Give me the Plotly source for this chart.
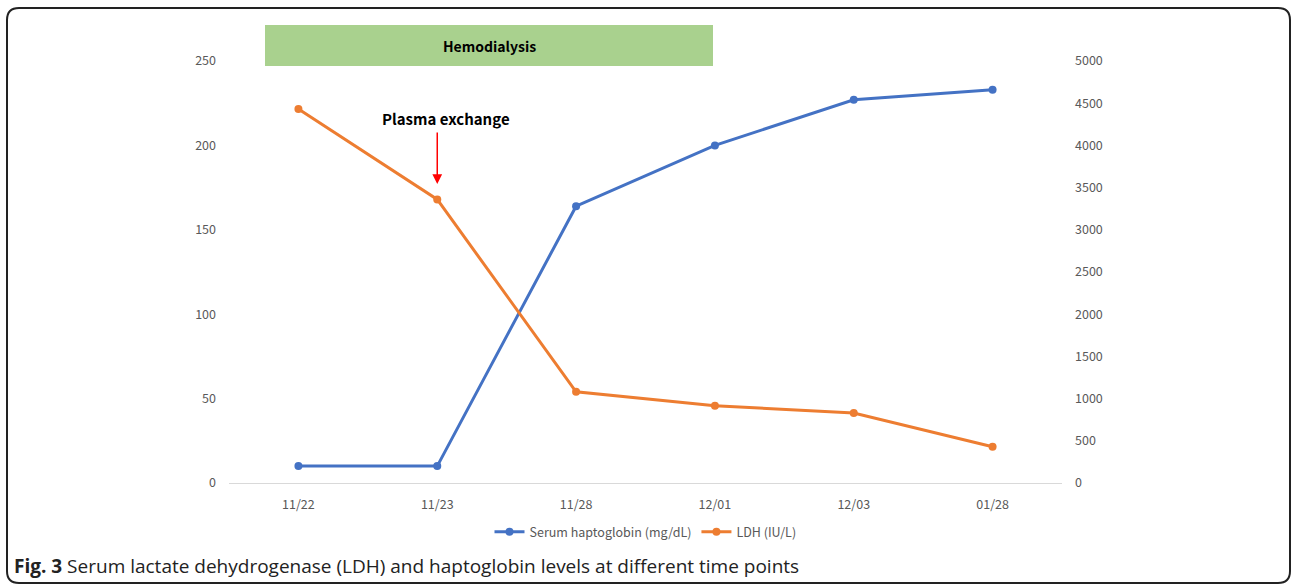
import plotly.graph_objects as go

dates = ["11/22", "11/23", "11/28", "12/01", "12/03", "01/28"]
haptoglobin = [10, 10, 164, 200, 227, 233]
ldh = [4430, 3360, 1080, 915, 830, 430]
left_ticks = [0, 50, 100, 150, 200, 250]
right_ticks = [0, 500, 1000, 1500, 2000, 2500, 3000, 3500, 4000, 4500, 5000]

W, H = 1292, 586
L, R, T, B = 229, 1062, 61, 483

def px(x):
    return (x - L) / (R - L)

def py(y):
    return (B - y) / (B - T)

fig = go.Figure()
fig.add_trace(go.Scatter(x=dates, y=haptoglobin, name="Serum haptoglobin (mg/dL)",
                         mode="lines+markers", line=dict(color="#4472C4", width=3),
                         marker=dict(size=8, color="#4472C4"), yaxis="y"))
fig.add_trace(go.Scatter(x=dates, y=ldh, name="LDH (IU/L)",
                         mode="lines+markers", line=dict(color="#ED7D31", width=3),
                         marker=dict(size=8, color="#ED7D31"), yaxis="y2"))

FONT = "Noto Sans CJK KR, Noto Sans, sans-serif"
tickfont = dict(family=FONT, size=12.5, color="#595959")

# rounded border path in paper coords
x0, x1, y0, y1 = px(7), px(1290), py(583), py(8)
rx, ry = 12 / (R - L), 12 / (B - T)
path = (f"M {x0+rx},{y1} L {x1-rx},{y1} Q {x1},{y1} {x1},{y1-ry} "
        f"L {x1},{y0+ry} Q {x1},{y0} {x1-rx},{y0} L {x0+rx},{y0} "
        f"Q {x0},{y0} {x0},{y0+ry} L {x0},{y1-ry} Q {x0},{y1} {x0+rx},{y1} Z")

fig.update_layout(
    width=W, height=H,
    margin=dict(l=L, r=W - R, t=T, b=H - B),
    plot_bgcolor="white", paper_bgcolor="white",
    showlegend=True,
    legend=dict(orientation="h", x=0.5, xanchor="center", y=py(532), yanchor="middle",
                font=tickfont, itemwidth=30),
    xaxis=dict(type="category", range=[-0.5, 5.5], showgrid=False, showline=True,
               linecolor="#D9D9D9", linewidth=1, ticks="", tickfont=tickfont,
               ticklabelstandoff=10, zeroline=False),
    yaxis=dict(range=[0, 250], tickvals=left_ticks, showgrid=False, zeroline=False,
               showline=False, ticks="", tickfont=tickfont, ticklabelstandoff=12),
    yaxis2=dict(range=[0, 5000], tickvals=right_ticks, overlaying="y", side="right",
                showgrid=False, zeroline=False, showline=False, ticks="",
                tickfont=tickfont, ticklabelstandoff=12),
    shapes=[
        dict(type="rect", xref="paper", yref="paper", x0=px(265), x1=px(713),
             y0=py(66), y1=py(25), fillcolor="#A9D18E", line=dict(width=0), layer="below"),
        dict(type="path", xref="paper", yref="paper", path=path,
             line=dict(color="#222222", width=2), fillcolor="rgba(0,0,0,0)"),
    ],
    annotations=[
        dict(xref="paper", yref="paper", x=px(489), y=py(46), xanchor="center", yanchor="middle",
             text="<b>Hemodialysis</b>", showarrow=False,
             font=dict(family=FONT, size=14, color="black")),
        dict(xref="paper", yref="paper", x=px(446), y=py(118), xanchor="center", yanchor="middle",
             text="<b>Plasma exchange</b>", showarrow=False,
             font=dict(family=FONT, size=15, color="black")),
        dict(xref="x", yref="paper", x="11/23", y=py(184), text="", showarrow=True,
             ax=0, ay=-53, arrowcolor="#FF0000", arrowhead=2, arrowsize=1.3, arrowwidth=1.5),
        dict(xref="paper", yref="paper", x=px(12), y=py(566), xanchor="left", yanchor="middle",
             text="<b>Fig. 3</b> Serum lactate dehydrogenase (LDH) and haptoglobin levels at different time points",
             showarrow=False, font=dict(family="Open Sans, sans-serif", size=19, color="#222222")),
    ],
)

fig.write_html("out.html", config={"displayModeBar": False},
               post_script="document.body.style.margin='0';document.body.style.overflow='hidden';")
